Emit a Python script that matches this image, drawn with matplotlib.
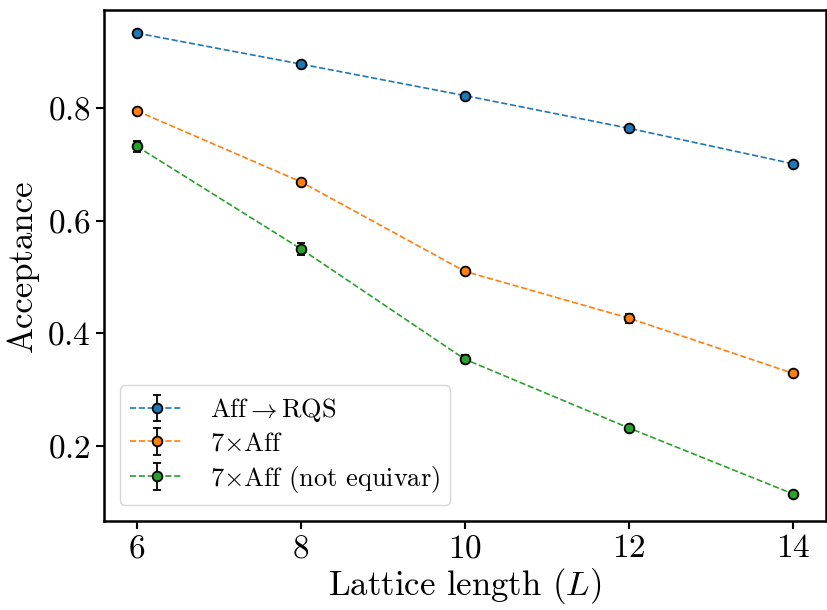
import matplotlib
matplotlib.use("Agg")
import matplotlib.pyplot as plt
import numpy as np

plt.rcParams['font.family'] = 'serif'
plt.rcParams['font.serif'] = ['cmr10']
plt.rcParams['mathtext.fontset'] = 'cm'
plt.rcParams['axes.formatter.use_mathtext'] = True
plt.rcParams['axes.unicode_minus'] = False

L = [6, 8, 10, 12, 14]
aff_rqs = [0.933, 0.878, 0.822, 0.764, 0.701]
aff_rqs_err = [0.003, 0.003, 0.003, 0.003, 0.003]
aff7 = [0.795, 0.669, 0.510, 0.427, 0.329]
aff7_err = [0.003, 0.003, 0.003, 0.008, 0.003]
aff7_ne = [0.732, 0.550, 0.354, 0.232, 0.115]
aff7_ne_err = [0.010, 0.010, 0.007, 0.004, 0.003]

labels = [r'Aff$\rightarrow$RQS', r'7$\times$Aff', r'7$\times$Aff (not equivar)']
colors = ['#1f77b4', '#ff7f0e', '#2ca02c']

fig = plt.figure(figsize=(8.28, 6.10), dpi=100)
ax = fig.add_axes([104/828, 1-521/610, (826-104)/828, (521-10)/610])

for ys, es, lab, c in zip([aff_rqs, aff7, aff7_ne], [aff_rqs_err, aff7_err, aff7_ne_err], labels, colors):
    ax.errorbar(L, ys, yerr=es, fmt='o--', color=c, ecolor='black', capsize=3,
                markersize=7, markeredgecolor='black', markeredgewidth=1.3,
                linewidth=1.2, elinewidth=1.3, label=lab)

ax.set_xticks([6, 8, 10, 12, 14])
ax.set_yticks([0.2, 0.4, 0.6, 0.8])
ax.set_xlim(5.6, 14.4)
ax.set_ylim(0.067, 0.974)
ax.tick_params(labelsize=24, width=1.5, length=6)
for s in ax.spines.values():
    s.set_linewidth(1.8)
ax.set_xlabel(r'Lattice length ($L$)', fontsize=25, labelpad=2)
ax.set_ylabel('Acceptance', fontsize=25, labelpad=6)
leg = ax.legend(loc='lower left', fontsize=19, handlelength=2.0, borderaxespad=0.6,
                handletextpad=1.0, labelspacing=0.3)
leg.get_frame().set_linewidth(1.0)

fig.savefig('out.png', dpi=100)
